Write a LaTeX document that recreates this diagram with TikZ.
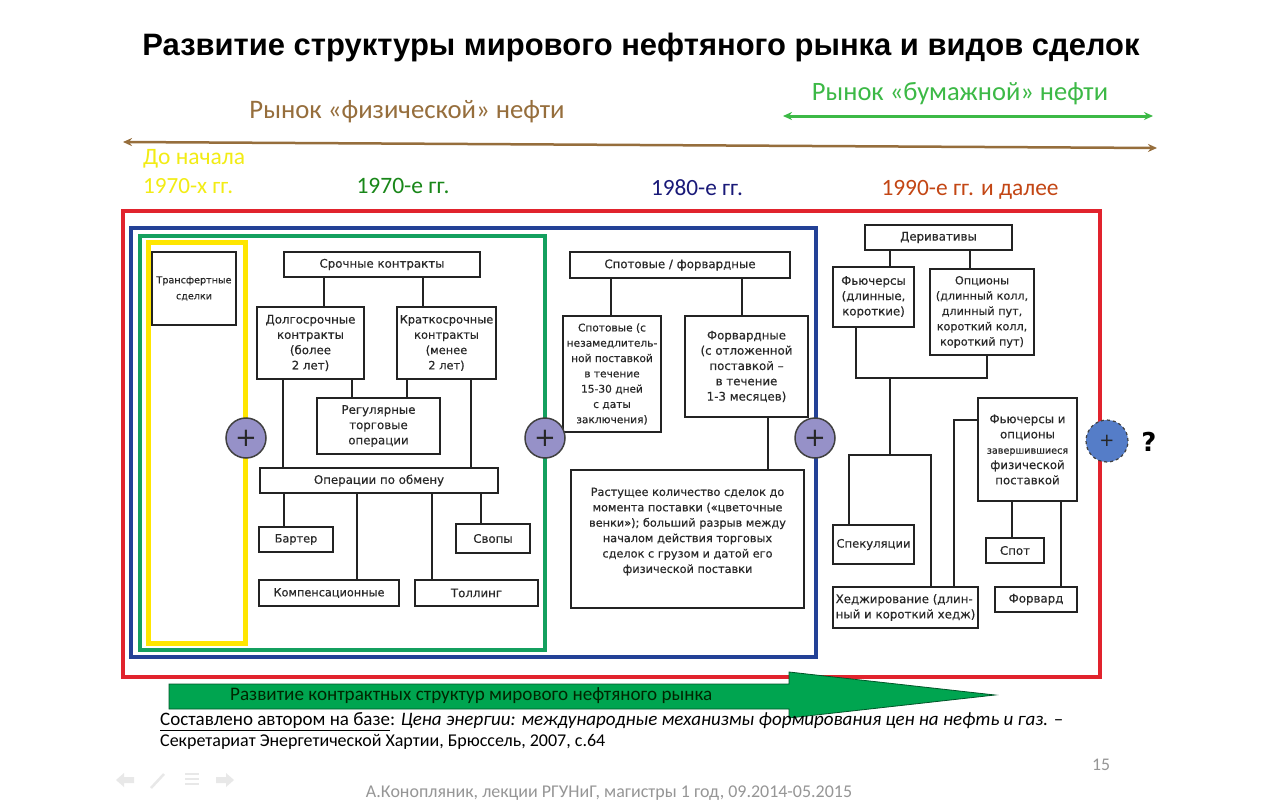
\documentclass[tikz,border=0pt]{standalone}
\usepackage{fontspec}
\setmainfont{Carlito}
\newfontfamily\boxfont[FakeBold=0.4]{DejaVu Sans}
\newfontfamily\titlefont{Liberation Sans}
\newfontfamily\symfont{DejaVu Sans}
\usetikzlibrary{arrows.meta}
\definecolor{brownc}{RGB}{150,110,60}
\definecolor{lgreen}{RGB}{60,185,70}
\definecolor{yel}{RGB}{255,230,0}
\definecolor{yeltext}{RGB}{242,236,20}
\definecolor{dgreen}{RGB}{25,135,25}
\definecolor{navy}{RGB}{25,25,120}
\definecolor{rust}{RGB}{195,70,20}
\definecolor{framered}{RGB}{225,35,45}
\definecolor{frameblue}{RGB}{35,65,150}
\definecolor{framegreen}{RGB}{20,160,95}
\definecolor{lav}{RGB}{150,145,200}
\definecolor{bluec}{RGB}{85,125,200}
\definecolor{arrgreen}{RGB}{0,165,80}
\definecolor{arrline}{RGB}{0,85,40}
\definecolor{boxline}{RGB}{35,35,35}
\definecolor{boxtext}{RGB}{40,40,40}
\definecolor{footgray}{RGB}{150,150,150}
\definecolor{navgray}{RGB}{232,232,232}
\tikzset{
  box/.style={draw=boxline, line width=1.6pt, fill=white, inner sep=0.3pt, align=center, text=boxtext,
    font=\boxfont\fontsize{11.8}{15.3}\selectfont},
  conn/.style={draw=boxline, line width=1.5pt},
  frame/.style={line width=4pt},
  pluscirc/.style={circle, draw=black!75, line width=1.5pt, fill=lav, minimum size=40pt, inner sep=0pt,
    font=\symfont\fontsize{26}{26}\selectfont, text=black!85},
  lbl/.style={inner sep=0pt},
  dblarrow/.style={{Stealth[length=9pt,width=8pt]}-{Stealth[length=9pt,width=8pt]}},
}
\begin{document}
\begin{tikzpicture}[x=1pt,y=-1pt]
\useasboundingbox (0,0) rectangle (1280,800);
\fill[white] (0,0) rectangle (1280,800);

% ---------- header ----------
\node[lbl, anchor=base] (title) at (641,56) {\resizebox{997pt}{!}{\titlefont\bfseries Развитие структуры мирового нефтяного рынка и видов сделок}};
\node[lbl, anchor=base, text=brownc] (phys) at (407,118) {\resizebox{315pt}{!}{Рынок «физической» нефти}};
\node[lbl, anchor=base, text=lgreen] (paper) at (960,100) {\resizebox{296pt}{!}{Рынок «бумажной» нефти}};

\coordinate (gl) at (783,116);
\coordinate (gr) at (1153,116);
\draw[lgreen, line width=3pt, dblarrow] (gl) -- (gr);
\coordinate (bl) at (123,142);
\coordinate (br) at (1157,148);
\draw[brownc, line width=2.5pt, dblarrow] (bl) -- (br);

\node[lbl, anchor=base west, text=yeltext] (pre1) at (143,164) {\resizebox{102pt}{!}{До начала}};
\node[lbl, anchor=base west, text=yeltext] (pre2) at (143,193) {\resizebox{90pt}{!}{1970-х гг.}};
\node[lbl, anchor=base, text=dgreen] (y70) at (403,193) {\resizebox{93pt}{!}{1970-е гг.}};
\node[lbl, anchor=base, text=navy] (y80) at (697,195) {\resizebox{92pt}{!}{1980-е гг.}};
\node[lbl, anchor=base, text=rust] (y90) at (970,195) {\resizebox{177pt}{!}{1990-е гг. и далее}};

% ---------- frames ----------
\draw[frame, framered] (123,211) rectangle (1100,677);
\draw[frame, frameblue] (131,228) rectangle (816,657);
\draw[frame, framegreen] (140,236) rectangle (545,650);
\draw[line width=5pt, yel] (148,242) rectangle (245,643);

% ---------- 1970s ----------
\node[box, minimum width=84pt, minimum height=73pt, font=\boxfont\fontsize{9.6}{16}\selectfont] (trans) at (194,288.5) {Трансфертные\\сделки};
\node[box, minimum width=196pt, minimum height=25pt] (srok) at (382,264.5) {Срочные контракты};
\node[box, minimum width=107pt, minimum height=72pt] (dolg) at (310.5,343) {Долгосрочные\\контракты\\(более\\2 лет)};
\node[box, minimum width=99pt, minimum height=72pt, font=\boxfont\fontsize{11.4}{15.3}\selectfont] (krat) at (446.5,343) {Краткосрочные\\контракты\\(менее\\2 лет)};
\node[box, minimum width=123pt, minimum height=56pt] (reg) at (378.5,426) {Регулярные\\торговые\\операции};
\node[box, minimum width=238pt, minimum height=25pt] (oper) at (379,480.5) {Операции по обмену};
\node[box, minimum width=74pt, minimum height=25pt, font=\boxfont\fontsize{11.3}{15.3}\selectfont] (barter) at (296,539.5) {Бартер};
\node[box, minimum width=74pt, minimum height=29pt] (svop) at (493,538.5) {Свопы};
\node[box, minimum width=140pt, minimum height=26pt, font=\boxfont\fontsize{11.3}{15.3}\selectfont] (komp) at (329,593) {Компенсационные};
\node[box, minimum width=123pt, minimum height=26pt] (toll) at (476.5,593) {Толлинг};

\draw[conn] (srok.south -| 324,0) -- (dolg.north -| 324,0);
\draw[conn] (srok.south -| 423,0) -- (krat.north -| 423,0);
\draw[conn] (dolg.south -| 352,0) -- (reg.north -| 352,0);
\draw[conn] (krat.south -| 407,0) -- (reg.north -| 407,0);
\draw[conn] (dolg.south -| 283,0) -- (oper.north -| 283,0);
\draw[conn] (krat.south -| 471,0) -- (oper.north -| 471,0);
\draw[conn] (oper.south -| 284,0) -- (barter.north -| 284,0);
\draw[conn] (oper.south -| 481,0) -- (svop.north -| 481,0);
\draw[conn] (oper.south -| 357,0) -- (komp.north -| 357,0);
\draw[conn] (oper.south -| 432,0) -- (toll.north -| 432,0);

% ---------- 1980s ----------
\node[box, minimum width=220pt, minimum height=26pt] (spf) at (680,265) {Спотовые / форвардные};
\node[box, minimum width=98pt, minimum height=116pt, font=\boxfont\fontsize{10.6}{15.3}\selectfont] (spot) at (612,374) {Спотовые (с\\незамедлитель-\\ной поставкой\\в течение\\15-30 дней\\с даты\\заключения)};
\node[box, minimum width=123pt, minimum height=101pt] (forw) at (746.5,366.5) {Форвардные\\(с отложенной\\поставкой –\\в течение\\1-3 месяцев)};
\node[box, minimum width=233pt, minimum height=138pt, font=\boxfont\fontsize{11.3}{15.4}\selectfont] (big) at (687.5,539) {Растущее количество сделок до\\момента поставки («цветочные\\венки»); больший разрыв между\\началом действия торговых\\сделок с грузом и датой его\\физической поставки\\[2pt]};

\draw[conn] (spf.south -| 611,0) -- (spot.north -| 611,0);
\draw[conn] (spf.south -| 742,0) -- (forw.north -| 742,0);
\draw[conn] (forw.south -| 768,0) -- (big.north -| 768,0);

% ---------- 1990s ----------
\node[box, minimum width=147pt, minimum height=25pt] (deriv) at (938.5,237.5) {Деривативы};
\node[box, minimum width=81pt, minimum height=60pt] (fut) at (873.5,297) {Фьючерсы\\(длинные,\\короткие)};
\node[box, minimum width=104pt, minimum height=86pt, font=\boxfont\fontsize{11.2}{15.3}\selectfont] (opt) at (982,312) {Опционы\\(длинный колл,\\длинный пут,\\короткий колл,\\короткий пут)};
\node[box, minimum width=81pt, minimum height=39pt, font=\boxfont\fontsize{11.6}{15.3}\selectfont] (spec) at (873.5,544.5) {Спекуляции};
\node[box, minimum width=145pt, minimum height=41pt, align=left] (hedge) at (905.5,607.5) {Хеджирование (длин-\\ный и короткий хедж)};
\node[box, minimum width=99pt, minimum height=103pt] (fo) at (1027.5,449.5) {Фьючерсы и\\опционы\\{\fontsize{9.6}{15.3}\selectfont завершившиеся}\\физической\\поставкой};
\node[box, minimum width=58pt, minimum height=25pt] (spot2) at (1015,550.5) {Спот};
\node[box, minimum width=82pt, minimum height=25pt] (forw2) at (1036,599.5) {Форвард};

\coordinate (j1) at (890,378);
\coordinate (j2) at (890,455);
\draw[conn] (deriv.south -| 890,0) -- (fut.north -| 890,0);
\draw[conn] (deriv.south -| 970,0) -- (opt.north -| 970,0);
\draw[conn] (fut.south -| 856,0) |- (j1) -| (opt.south -| 987,0);
\draw[conn] (j1) -- (j2);
\draw[conn] (spec.north -| 849,0) |- (j2) -| (hedge.north -| 931,0);
\draw[conn] (fo.west |- 0,420) -| (hedge.north -| 954,0);
\draw[conn] (fo.south -| 1012,0) -- (spot2.north -| 1012,0);
\draw[conn] (fo.south -| 1061,0) -- (forw2.north -| 1061,0);

% ---------- plus circles ----------
\node[pluscirc] (c1) at (246,438) {+};
\node[pluscirc] (c2) at (545,438) {+};
\node[pluscirc] (c3) at (815,438) {+};
\node[circle, draw=black!75, dashed, line width=1.2pt, fill=bluec, minimum size=42pt, inner sep=0pt,
  font=\symfont\fontsize{18}{18}\selectfont, text=black!85] (c4) at (1107,441) {+};
\node[lbl, font=\symfont\bfseries\fontsize{26}{26}\selectfont] (q) at (1149,442) {?};

% ---------- bottom arrow ----------
\filldraw[fill=arrgreen, draw=arrline, line width=0.8pt]
  (169,684) -- (789,684) -- (789,672) -- (995,695) -- (789,718) -- (789,709) -- (169,709) -- cycle;
\node[lbl, anchor=base west, text=black!85!green] (arrtxt) at (230,700) {\resizebox{482pt}{!}{Развитие контрактных структур мирового нефтяного рынка}};

% ---------- source ----------
\node[lbl, anchor=base west] (src1) at (160,725) {\resizebox{903pt}{!}{\underline{Составлено автором на базе}: \textit{Цена энергии: международные механизмы формирования цен на нефть и газ.} –}};
\node[lbl, anchor=base west] (src2) at (160,746) {\resizebox{445pt}{!}{Секретариат Энергетической Хартии, Брюссель, 2007, с.64}};

\node[lbl, anchor=base, text=footgray] (page) at (1101,770) {\resizebox{18pt}{!}{15}};
\node[lbl, anchor=base, text=footgray] (foot) at (609,797) {\resizebox{486pt}{!}{А.Конопляник, лекции РГУНиГ, магистры 1 год, 09.2014-05.2015}};

% ---------- nav icons ----------
\fill[navgray] (116,780) -- (124,773) -- (124,777) -- (134,777) -- (134,783) -- (124,783) -- (124,787) -- cycle;
\draw[navgray, line width=2.5pt] (151,788) -- (164,774);
\draw[navgray, line width=2pt] (185,774) -- (199,774) (185,779) -- (199,779) (185,784) -- (199,784);
\fill[navgray] (234,780) -- (226,773) -- (226,777) -- (216,777) -- (216,783) -- (226,783) -- (226,787) -- cycle;
\end{tikzpicture}
\end{document}
